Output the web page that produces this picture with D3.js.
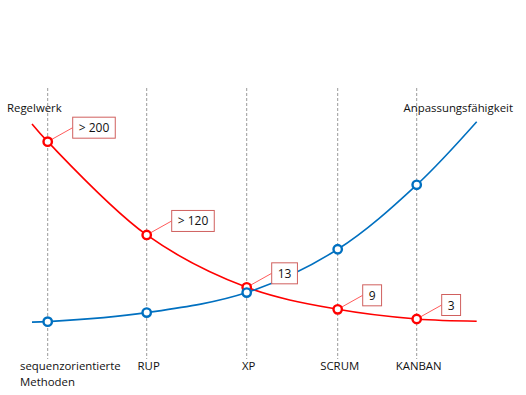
<!DOCTYPE html>
<html>
<head>
<meta charset="utf-8">
<script src="https://cdn.jsdelivr.net/npm/d3@7"></script>
<style>
  body { margin: 0; background: #fff; }
  text { font-family: "Open Sans", sans-serif; fill: #111; }
</style>
</head>
<body>
<div id="chart"></div>
<script>
// categories along the x axis
var categories = ['sequenzorientierte Methoden', 'RUP', 'XP', 'SCRUM', 'KANBAN'];

// level of the two trends at each category (relative units 0..100)
var regelwerk = [85.6, 43.2, 19.4, 9.4, 5.0];
var anpassung = [3.8, 7.9, 17.0, 36.7, 66.0];

// values where the curves run out beyond the first / last category
var regelwerkEnds = [93.6, 4.0];
var anpassungEnds = [3.6, 94.7];

// labels on the red points
var regelLabels = ['> 200', '> 120', '13', '9', '3'];

// svg area
var svgWidth = 526;
var svgHeight = 395;

var svg = d3.select('#chart')
    .append('svg')
    .attr('width', svgWidth)
    .attr('height', svgHeight);

// x: category index -> pixel (columns are not evenly spaced)
var xScale = d3.scaleLinear()
    .domain([-0.16, 0, 1, 2, 3, 4, 4.76])
    .range([32, 47.7, 146.7, 246.7, 337.7, 416.7, 476.7]);

// y: relative level
var yScale = d3.scaleLinear()
    .domain([0, 100])
    .range([330, 110]);

// build point lists incl. the curve run-outs
function series(vals, ends) {
    var pts = [{ i: -0.16, v: ends[0] }];
    vals.forEach((v, i) => pts.push({ i: i, v: v }));
    pts.push({ i: 4.76, v: ends[1] });
    return pts;
}
var redPts = series(regelwerk, regelwerkEnds);
var bluePts = series(anpassung, anpassungEnds);

// dashed vertical guides
svg.append('g')
    .selectAll('line')
    .data(categories)
    .enter()
    .append('line')
    .attr('x1', (d, i) => xScale(i))
    .attr('x2', (d, i) => xScale(i))
    .attr('y1', 88)
    .attr('y2', 359)
    .attr('stroke', '#9a9a9a')
    .attr('stroke-width', 1)
    .attr('stroke-dasharray', '3,2');

// category labels
var catLabels = svg.append('g')
    .selectAll('text')
    .data(categories)
    .enter()
    .append('text')
    .attr('y', 370)
    .attr('text-anchor', (d, i) => i === 0 ? 'start' : 'middle')
    .style('font-size', '11.4px');

catLabels.each(function (d, i) {
    var words = i === 0 ? d.split(' ') : [d];
    var t = d3.select(this);
    words.forEach((w, k) => {
        t.append('tspan')
            .attr('x', i === 0 ? 20 : xScale(i) + 2)
            .attr('dy', k === 0 ? 0 : 16)
            .text(w);
    });
});

// line generator
var line = d3.line()
    .x(d => xScale(d.i))
    .y(d => yScale(d.v))
    .curve(d3.curveCatmullRom.alpha(0.5));

svg.append('path')
    .datum(redPts)
    .attr('d', line)
    .attr('fill', 'none')
    .attr('stroke', '#ff0000')
    .attr('stroke-width', 1.6);

svg.append('path')
    .datum(bluePts)
    .attr('d', line)
    .attr('fill', 'none')
    .attr('stroke', '#0070c0')
    .attr('stroke-width', 1.6);

// value callouts on the red line
var callouts = svg.append('g')
    .selectAll('g')
    .data(regelwerk)
    .enter()
    .append('g');

callouts.each(function (v, i) {
    var g = d3.select(this);
    var px = xScale(i), py = yScale(v);
    var bx = px + 25, by = py - 14;
    var txt = g.append('text')
        .attr('x', bx + 6)
        .attr('y', by + 4.5)
        .style('font-size', '12px')
        .text(regelLabels[i]);
    var w = txt.node().getComputedTextLength() + 12;
    g.insert('rect', 'text')
        .attr('x', bx)
        .attr('y', by - 10.5)
        .attr('width', w)
        .attr('height', 21)
        .attr('fill', '#fff')
        .attr('stroke', '#d0605e')
        .attr('stroke-width', 1);
    g.insert('line', 'rect')
        .attr('x1', px)
        .attr('y1', py)
        .attr('x2', bx)
        .attr('y2', by)
        .attr('stroke', '#ff3030')
        .attr('stroke-width', 0.8);
});

// point markers
function markers(vals, color) {
    svg.append('g')
        .selectAll('circle')
        .data(vals)
        .enter()
        .append('circle')
        .attr('cx', (d, i) => xScale(i))
        .attr('cy', d => yScale(d))
        .attr('r', 4.2)
        .attr('fill', '#fff')
        .attr('stroke', color)
        .attr('stroke-width', 2.4);
}
markers(regelwerk, '#ff0000');
markers(anpassung, '#0070c0');

// trend titles
svg.append('text')
    .attr('x', 7)
    .attr('y', 112)
    .style('font-size', '11.4px')
    .text('Regelwerk');

svg.append('text')
    .attr('x', 513)
    .attr('y', 112)
    .attr('text-anchor', 'end')
    .style('font-size', '11.4px')
    .text('Anpassungsfähigkeit');
</script>
</body>
</html>
